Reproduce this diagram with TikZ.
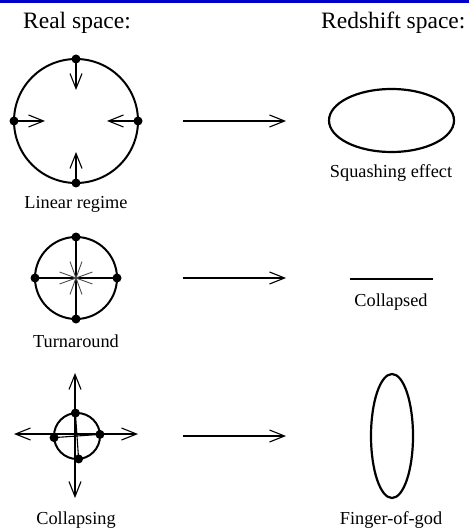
\documentclass[tikz,border=0pt]{standalone}
\usepackage{fontspec}
\setmainfont{Liberation Serif}
\usetikzlibrary{arrows.meta, positioning, shapes.geometric}
\definecolor{barra}{RGB}{0,0,200}
\tikzset{
    dot/.style={circle, fill=black, inner sep=0pt, minimum size=9pt},
    ring/.style={circle, draw, line width=2pt, inner sep=0pt, outer sep=0pt},
    oval/.style={ellipse, draw, line width=2.2pt, inner sep=0pt, outer sep=0pt},
    flow/.style={-{Straight Barb[length=15pt, width=12pt]}, line width=1.1pt},
    lbl/.style={anchor=base, inner sep=0pt, font=\fontsize{18.3}{22}\selectfont},
    head/.style={anchor=base west, inner sep=0pt, font=\fontsize{23.5}{28}\selectfont}
}

\begin{document}
\begin{tikzpicture}[x=1pt, y=-1pt]
    \useasboundingbox (0,0) rectangle (469,529);
    \fill[barra] (0,0) rectangle (469,3.5);

    % Titoli
    \node[head] (real) at (23,29) {Real space:};
    \node[head] (red) at (321,29) {Redshift space:};

    % Regime lineare
    \node[ring, minimum size=124pt] (lin) at (76,121) {};
    \foreach \a in {north, south, east, west}
        \node[dot] at (lin.\a) {};
    \coordinate[below=31pt of lin.north] (ln);
    \coordinate[above=31pt of lin.south] (ls);
    \coordinate[right=31pt of lin.west] (lw);
    \coordinate[left=31pt of lin.east] (le);
    \draw[flow] (lin.north) -- (ln);
    \draw[flow] (lin.south) -- (ls);
    \draw[flow] (lin.west) -- (lw);
    \draw[flow] (lin.east) -- (le);
    \node[lbl] (linlab) at (76,208) {Linear regime};

    % Turnaround
    \node[ring, minimum size=82pt] (tur) at (76,278) {};
    \draw[line width=1.3pt] (tur.west) -- (tur.east);
    \draw[line width=1.3pt] (tur.north) -- (tur.south);
    \foreach \a in {20, -20, 70, -70}
        \draw[line width=0.9pt, black!70] (tur.center) ++(\a:17.5pt) -- ++(\a+180:35pt);
    \foreach \a in {north, south, east, west}
        \node[dot] at (tur.\a) {};
    \node[lbl] (turlab) at (76,347) {Turnaround};

    % Collasso
    \coordinate (cn) at (75,373);
    \coordinate (cs) at (75,498);
    \coordinate (cw) at (14,434);
    \coordinate (ce) at (138,434);
    \draw[{Straight Barb[length=15pt, width=12pt]}-{Straight Barb[length=15pt, width=12pt]}, line width=1.1pt] (cn) -- (cs);
    \draw[{Straight Barb[length=15pt, width=12pt]}-{Straight Barb[length=15pt, width=12pt]}, line width=1.1pt] (cw) -- (ce);
    \node[ring, minimum size=46pt] (col) at (77,436) {};
    \draw[line width=1.1pt] (col.94) -- (col.274);
    \draw[line width=1.1pt] (col.184) -- (col.4);
    \foreach \a in {94, 4, 184, 274}
        \node[dot] at (col.\a) {};
    \node[lbl] (collab) at (76,524) {Collapsing};

    % Frecce centrali
    \foreach \y/\n in {121/a, 278/b, 436/c}{
        \coordinate (s\n) at (183,\y);
        \coordinate (t\n) at (286,\y);
        \draw[flow] (s\n) -- (t\n);
    }

    % Spazio dei redshift
    \node[oval, minimum width=125pt, minimum height=63pt] (squash) at (391.5,120.5) {};
    \node[lbl] (squashlab) at (391,178) {Squashing effect};

    \coordinate (pl) at (350,279);
    \coordinate (pr) at (433,279);
    \draw[line width=2.4pt] (pl) -- (pr);
    \node[lbl] (flatlab) at (391,306) {Collapsed};

    \node[oval, minimum width=42pt, minimum height=124pt] (fog) at (392,436) {};
    \node[lbl] (foglab) at (391,524) {Finger-of-god};
\end{tikzpicture}
\end{document}
